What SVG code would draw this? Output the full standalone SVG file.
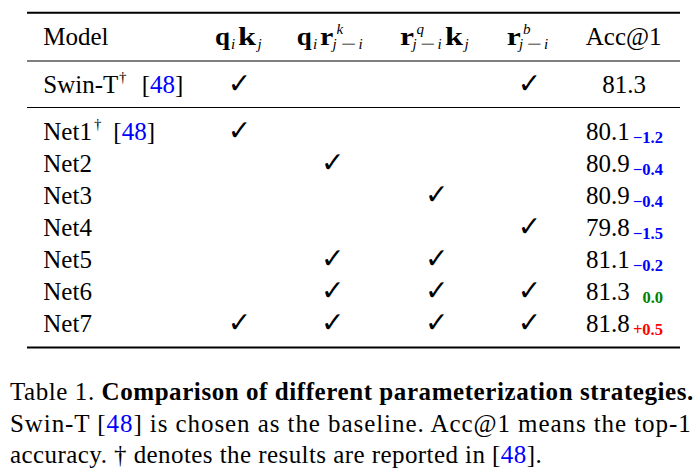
<svg xmlns="http://www.w3.org/2000/svg" width="699" height="474" viewBox="0 0 699 474">
<style>
text{font-family:"Liberation Serif","Times New Roman",Times,serif;fill:#000}
.t{font-size:25px}
.b{font-size:25px;font-weight:bold}
.it{font-size:15px;font-style:italic}
.sp{font-size:15px;font-style:italic}
.mi{font-size:15px}
.dg{font-size:15px}
.ck{font-family:"DejaVu Sans",sans-serif;font-size:28px;font-weight:bold;text-anchor:middle}
.acc{font-size:25px}
.sub{font-size:16.5px;font-weight:bold;text-anchor:end}
.neg{fill:#0000ff}
.zero{fill:#008000}
.pos{fill:#ff0000}
.ref{fill:#0000ff}
.cap{font-size:25px}
.rule{stroke:#000;fill:none}
</style>
<rect width="699" height="474" fill="#fff"/>
<g id="rules">
<line class="rule" x1="27" y1="12.7" x2="680" y2="12.7" stroke-width="2"/>
<line class="rule" x1="27" y1="61" x2="680" y2="61" stroke-width="1.2"/>
<line class="rule" x1="27" y1="107.5" x2="680" y2="107.5" stroke-width="1.2"/>
<line class="rule" x1="27" y1="347.5" x2="680" y2="347.5" stroke-width="2.2"/>
</g>
<g id="header">
<text class="t" x="43.3" y="45">Model</text>
<g id="h-qk">
<text class="b" x="215" y="44.5" textLength="15" lengthAdjust="spacingAndGlyphs">q</text>
<text class="it" x="231" y="48.5">i</text>
<text class="b" x="238" y="44.5" textLength="18" lengthAdjust="spacingAndGlyphs">k</text>
<text class="it" x="257.5" y="48.5">j</text>
</g>
<g id="h-qr">
<text class="b" x="296.7" y="44.5" textLength="15" lengthAdjust="spacingAndGlyphs">q</text>
<text class="it" x="313" y="48.5">i</text>
<text class="b" x="320" y="44.5" textLength="13.3" lengthAdjust="spacingAndGlyphs">r</text>
<text class="sp" x="336.5" y="34">k</text>
<text class="it" x="332.5" y="49">j</text>
<text class="mi" x="340.5" y="48.5" textLength="15.5" lengthAdjust="spacingAndGlyphs">−</text>
<text class="it" x="358.5" y="48.5">i</text>
</g>
<g id="h-rk">
<text class="b" x="400" y="44.5" textLength="14" lengthAdjust="spacingAndGlyphs">r</text>
<text class="sp" x="416.5" y="33.5">q</text>
<text class="it" x="412.5" y="49">j</text>
<text class="mi" x="420" y="48.5" textLength="15" lengthAdjust="spacingAndGlyphs">−</text>
<text class="it" x="437.5" y="48.5">i</text>
<text class="b" x="445" y="44.5" textLength="18" lengthAdjust="spacingAndGlyphs">k</text>
<text class="it" x="464.5" y="48.5">j</text>
</g>
<g id="h-rb">
<text class="b" x="506.7" y="44.5" textLength="14" lengthAdjust="spacingAndGlyphs">r</text>
<text class="sp" x="523" y="34">b</text>
<text class="it" x="519" y="49">j</text>
<text class="mi" x="526.5" y="48.5" textLength="15" lengthAdjust="spacingAndGlyphs">−</text>
<text class="it" x="544" y="48.5">i</text>
</g>
<text class="t" x="623.7" y="45" text-anchor="middle">Acc@1</text>
</g>
<g id="row-swin">
<text class="t" x="43.3" y="92.7">Swin-T</text>
<text class="dg" x="119" y="82">†</text>
<text class="t" x="141.7" y="92.7">[<tspan class="ref">48</tspan>]</text>
<text class="ck" x="239.5" y="92.7">✓</text>
<text class="ck" x="529.5" y="92.7">✓</text>
<text class="acc" x="624" y="92.7" text-anchor="middle">81.3</text>
</g>
<g id="row-net1">
<text class="t" x="43.3" y="139.7">Net1</text>
<text class="dg" x="94" y="129">†</text>
<text class="t" x="113.3" y="139.7">[<tspan class="ref">48</tspan>]</text>
<text class="ck" x="239.5" y="139.7">✓</text>
<text class="acc" x="586" y="139.7">80.1</text>
<text class="sub neg" x="663" y="142.7">−1.2</text>
</g>
<g id="row-net2">
<text class="t" x="43.3" y="171.7">Net2</text>
<text class="ck" x="332.7" y="171.7">✓</text>
<text class="acc" x="586" y="171.7">80.9</text>
<text class="sub neg" x="663" y="174.7">−0.4</text>
</g>
<g id="row-net3">
<text class="t" x="43.3" y="203.7">Net3</text>
<text class="ck" x="436.7" y="203.7">✓</text>
<text class="acc" x="586" y="203.7">80.9</text>
<text class="sub neg" x="663" y="206.7">−0.4</text>
</g>
<g id="row-net4">
<text class="t" x="43.3" y="235.7">Net4</text>
<text class="ck" x="529.5" y="235.7">✓</text>
<text class="acc" x="586" y="235.7">79.8</text>
<text class="sub neg" x="663" y="238.7">−1.5</text>
</g>
<g id="row-net5">
<text class="t" x="43.3" y="267.7">Net5</text>
<text class="ck" x="332.7" y="267.7">✓</text>
<text class="ck" x="436.7" y="267.7">✓</text>
<text class="acc" x="586" y="267.7">81.1</text>
<text class="sub neg" x="663" y="270.7">−0.2</text>
</g>
<g id="row-net6">
<text class="t" x="43.3" y="299.7">Net6</text>
<text class="ck" x="332.7" y="299.7">✓</text>
<text class="ck" x="436.7" y="299.7">✓</text>
<text class="ck" x="529.5" y="299.7">✓</text>
<text class="acc" x="586" y="299.7">81.3</text>
<text class="sub zero" x="663" y="302.7">0.0</text>
</g>
<g id="row-net7">
<text class="t" x="43.3" y="331.7">Net7</text>
<text class="ck" x="239.5" y="331.7">✓</text>
<text class="ck" x="332.7" y="331.7">✓</text>
<text class="ck" x="436.7" y="331.7">✓</text>
<text class="ck" x="529.5" y="331.7">✓</text>
<text class="acc" x="586" y="331.7">81.8</text>
<text class="sub pos" x="663" y="334.7">+0.5</text>
</g>
<g id="caption">
<text class="cap" x="10" y="400" textLength="683.3" lengthAdjust="spacing">Table 1. <tspan font-weight="bold">Comparison of different parameterization strategies.</tspan></text>
<text class="cap" x="10" y="431.5" textLength="680.7" lengthAdjust="spacing">Swin-T [<tspan class="ref">48</tspan>] is chosen as the baseline.  Acc@1 means the top-1</text>
<text class="cap" x="10" y="462.5" textLength="531.7" lengthAdjust="spacing">accuracy. † denotes the results are reported in [<tspan class="ref">48</tspan>].</text>
</g>
</svg>
